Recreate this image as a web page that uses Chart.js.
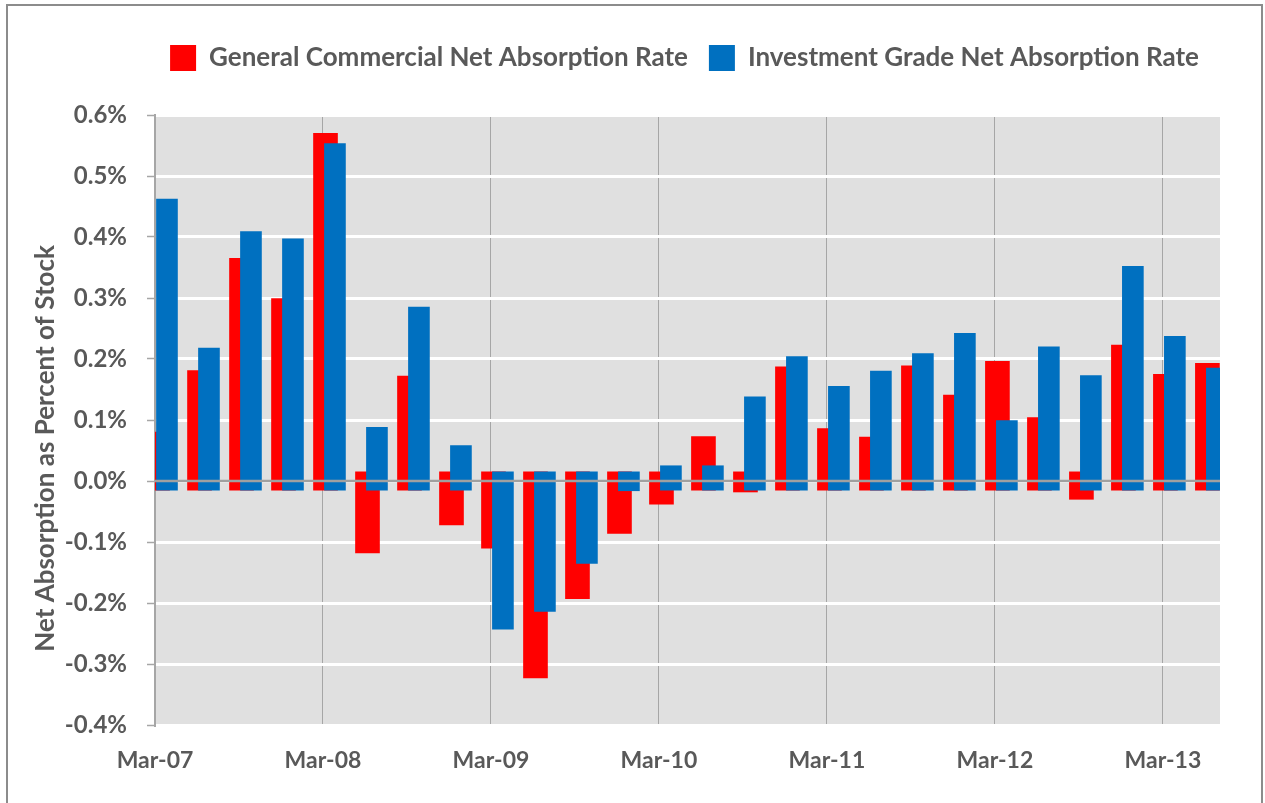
<!DOCTYPE html>
<html>
<head>
<meta charset="utf-8">
<title>Net Absorption as Percent of Stock</title>
<script src="https://cdn.jsdelivr.net/npm/chart.js@4.4.1/dist/chart.umd.min.js"></script>
<style>
  html, body { margin: 0; padding: 0; background: #fff; overflow: hidden; }
  #wrap { position: relative; width: 1265px; height: 803px; overflow: hidden; }
  #frame { position: absolute; left: 6px; top: 4px; width: 1253px; height: 830px; border: 2px solid #8c8c8c; pointer-events: none; }
</style>
</head>
<body>
<div id="wrap">
  <canvas id="myChart"></canvas>
  <div id="frame"></div>
</div>
<script>
// quarters, Mar-07 .. Jun-13
const quarters = [
  'Mar-07', 'Jun-07', 'Sep-07', 'Dec-07',
  'Mar-08', 'Jun-08', 'Sep-08', 'Dec-08',
  'Mar-09', 'Jun-09', 'Sep-09', 'Dec-09',
  'Mar-10', 'Jun-10', 'Sep-10', 'Dec-10',
  'Mar-11', 'Jun-11', 'Sep-11', 'Dec-11',
  'Mar-12', 'Jun-12', 'Sep-12', 'Dec-12',
  'Mar-13', 'Jun-13'
];
const tickLabels = ['Mar-07', 'Mar-08', 'Mar-09', 'Mar-10', 'Mar-11', 'Mar-12', 'Mar-13'];

// net absorption, % of stock
const generalCommercial = [
  0.080, 0.181, 0.365, 0.299,
  0.570, -0.118, 0.172, -0.072,
  -0.110, -0.323, -0.193, -0.086,
  -0.038, 0.073, -0.018, 0.187,
  0.086, 0.072, 0.189, 0.141,
  0.196, 0.104, -0.030, 0.223,
  0.175, 0.193
];
const investmentGrade = [
  0.462, 0.218, 0.409, 0.397,
  0.553, 0.088, 0.285, 0.058,
  -0.243, -0.214, -0.135, -0.016,
  0.025, 0.025, 0.138, 0.204,
  0.155, 0.180, 0.209, 0.242,
  0.099, 0.220, 0.173, 0.352,
  0.237, 0.185
];

const textColor = '#595959';
const stub = 0.015; // bars in the original start a hair past zero

// floating bars [start, end], shifted a bit inside each quarter
const toBars = (values, shift) => values.map((v, i) => ({
  x: i + shift,
  y: [v >= 0 ? -stub : stub, v]
}));

const plotBackground = {
  id: 'plotBackground',
  beforeDraw(chart) {
    const { ctx, chartArea } = chart;
    ctx.save();
    ctx.fillStyle = '#e0e0e0';
    ctx.fillRect(chartArea.left, chartArea.top, chartArea.width, chartArea.height);
    ctx.restore();
  }
};

// the zero axis sits on top of the bars
const zeroLine = {
  id: 'zeroLine',
  afterDatasetsDraw(chart) {
    const { ctx, chartArea, scales } = chart;
    const y = scales.y.getPixelForValue(0);
    ctx.save();
    ctx.strokeStyle = '#a0a0a0';
    ctx.lineWidth = 2.5;
    ctx.beginPath();
    ctx.moveTo(chartArea.left, y);
    ctx.lineTo(chartArea.right, y);
    ctx.stroke();
    ctx.restore();
  }
};

Chart.defaults.font.family = 'Lato, "Open Sans", sans-serif';
Chart.defaults.font.weight = 'bold';
Chart.defaults.color = textColor;

const ctx = document.getElementById('myChart').getContext('2d');
const myChart = new Chart(ctx, {
  type: 'bar',
  data: {
    datasets: [
      {
        label: 'General Commercial Net Absorption Rate',
        data: toBars(generalCommercial, 0.06),
        backgroundColor: '#ff0000',
        borderWidth: 0,
        barThickness: 24,
        grouped: false,
        clip: 0,
        order: 1
      },
      {
        label: 'Investment Grade Net Absorption Rate',
        data: toBars(investmentGrade, 0.285),
        backgroundColor: '#0070c0',
        borderWidth: 0,
        barThickness: 21,
        grouped: false,
        clip: 0,
        order: 0
      }
    ]
  },
  options: {
    responsive: true,
    maintainAspectRatio: false,
    animation: false,
    layout: { padding: { left: 28, right: 45, top: 24, bottom: 0 } },
    plugins: {
      legend: {
        position: 'top',
        align: 'end',
        labels: {
          boxWidth: 26,
          boxHeight: 26,
          padding: 21,
          color: textColor,
          font: { size: 26, weight: 'bold' },
          sort: (a, b) => a.datasetIndex - b.datasetIndex
        }
      },
      // empty subtitle only used as space between legend and plot
      subtitle: {
        display: true,
        text: '',
        weight: 500,
        font: { size: 10 },
        padding: { top: 0, bottom: 22 }
      },
      tooltip: { enabled: false }
    },
    scales: {
      x: {
        type: 'linear',
        min: 0,
        max: 25.36,
        offset: false,
        grid: { color: '#a6a6a6', lineWidth: 1, drawTicks: false, offset: false },
        border: { display: false },
        ticks: {
          stepSize: 4,
          includeBounds: false,
          maxRotation: 0,
          autoSkip: false,
          padding: 22,
          color: textColor,
          font: { size: 23, weight: 'bold' },
          callback: (v) => tickLabels[v / 4]
        },
        afterFit: (scale) => { scale.height = 78; }
      },
      y: {
        min: -0.4,
        max: 0.6,
        grid: { color: '#ffffff', lineWidth: 3, tickColor: '#a6a6a6', tickLength: 8, tickWidth: 1.5 },
        border: { display: true, color: '#a6a6a6', width: 2 },
        ticks: {
          stepSize: 0.1,
          padding: 20,
          color: textColor,
          font: { size: 24, weight: 'bold' },
          callback: (v) => (Math.abs(v) < 1e-9 ? 0 : v).toFixed(1) + '%'
        },
        title: {
          display: true,
          // trailing spaces nudge the rotated title down a little, like the original
          text: 'Net Absorption as Percent of Stock         ',
          color: textColor,
          font: { size: 26, weight: 'bold' },
          padding: { top: 2, bottom: 4 }
        },
        afterFit: (scale) => { scale.width = 127; }
      }
    }
  },
  plugins: [plotBackground, zeroLine]
});
</script>
</body>
</html>
